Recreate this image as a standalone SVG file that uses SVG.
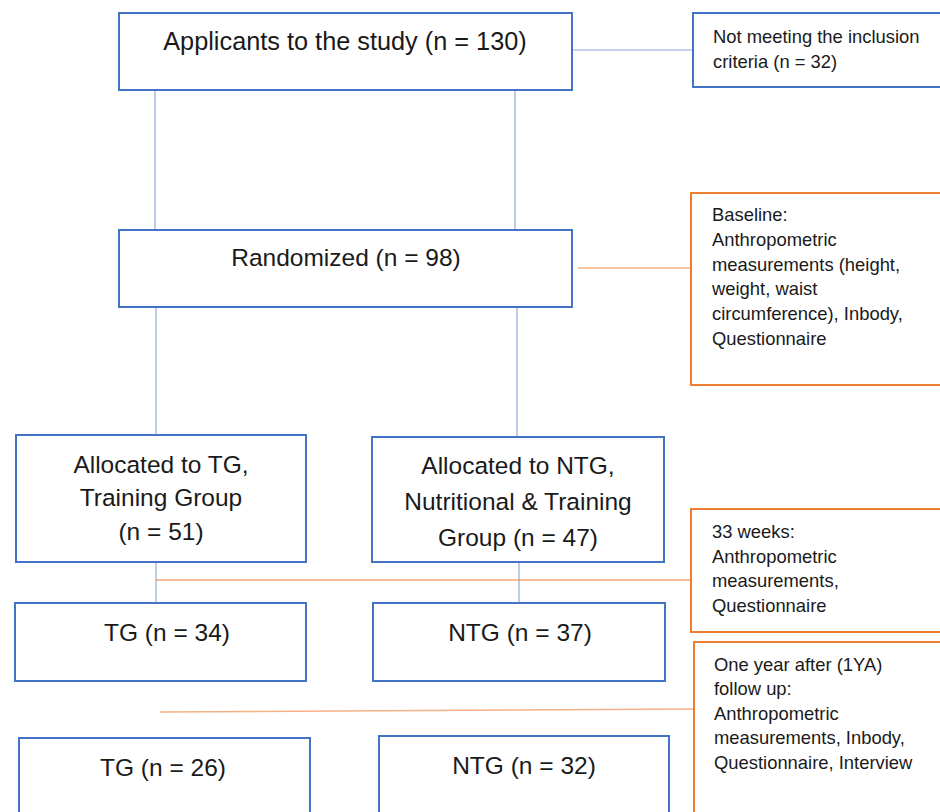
<svg xmlns="http://www.w3.org/2000/svg" width="940" height="812" viewBox="0 0 940 812">
<style>
.box{fill:#fff;stroke:#4472C4;stroke-width:2}
.obox{fill:#fff;stroke:#ED7D31;stroke-width:2}
.bl{stroke:#8FAADC;stroke-width:1.2;fill:none}
.ol{stroke:#F4B183;stroke-width:1.5;fill:none}
.ol2{stroke:#ED7D31;stroke-width:1;fill:none}
.big{font-family:"Liberation Sans",Arial,sans-serif;font-size:24.5px;fill:#1a1a1a;text-anchor:middle}
.big2{font-size:25.3px}
.sm{font-family:"Liberation Sans",Arial,sans-serif;font-size:18.4px;fill:#1a1a1a}
</style>
<rect width="940" height="812" fill="#fff"/>
<g id="connectors">
<line class="bl" x1="155" y1="90" x2="155" y2="230"/>
<line class="bl" x1="515" y1="90" x2="515" y2="230"/>
<line class="bl" x1="156" y1="307" x2="156" y2="435"/>
<line class="bl" x1="517" y1="307" x2="517" y2="437"/>
<line class="bl" x1="156" y1="562" x2="156" y2="603"/>
<line class="bl" x1="519" y1="562" x2="519" y2="603"/>
<line class="bl" x1="572" y1="50" x2="692" y2="50"/>
<line class="ol" x1="578" y1="268" x2="691" y2="268"/>
<line class="ol2" x1="156" y1="580" x2="691" y2="580"/>
<line class="ol" x1="160" y1="712" x2="697" y2="709"/>
</g>
<g id="applicants">
<rect class="box" x="119" y="13" width="453" height="77"/>
<text class="big big2" x="345" y="50">Applicants to the study (n = 130)</text>
</g>
<g id="excluded">
<rect class="box" x="693" y="13" width="260" height="74"/>
<text class="sm" x="713" y="43">Not meeting the inclusion</text>
<text class="sm" x="713" y="68">criteria (n = 32)</text>
</g>
<g id="randomized">
<rect class="box" x="119" y="230" width="453" height="77"/>
<text class="big" x="346" y="266">Randomized (n = 98)</text>
</g>
<g id="baseline">
<rect class="obox" x="691" y="193" width="260" height="192"/>
<text class="sm" x="712" y="221">Baseline:</text>
<text class="sm" x="712" y="246">Anthropometric</text>
<text class="sm" x="712" y="271">measurements (height,</text>
<text class="sm" x="712" y="295">weight, waist</text>
<text class="sm" x="712" y="320">circumference), Inbody,</text>
<text class="sm" x="712" y="345">Questionnaire</text>
</g>
<g id="alloc-tg">
<rect class="box" x="16" y="435" width="290" height="127"/>
<text class="big" x="161" y="473">Allocated to TG,</text>
<text class="big" x="161" y="506">Training Group</text>
<text class="big" x="161" y="540">(n = 51)</text>
</g>
<g id="alloc-ntg">
<rect class="box" x="372" y="437" width="292" height="125"/>
<text class="big" x="518" y="474">Allocated to NTG,</text>
<text class="big" x="518" y="510">Nutritional &amp; Training</text>
<text class="big" x="518" y="546">Group (n = 47)</text>
</g>
<g id="weeks33">
<rect class="obox" x="691" y="509" width="260" height="123"/>
<text class="sm" x="712" y="538">33 weeks:</text>
<text class="sm" x="712" y="563">Anthropometric</text>
<text class="sm" x="712" y="587">measurements,</text>
<text class="sm" x="712" y="612">Questionnaire</text>
</g>
<g id="tg34">
<rect class="box" x="15" y="603" width="291" height="78"/>
<text class="big" x="167" y="641">TG (n = 34)</text>
</g>
<g id="ntg37">
<rect class="box" x="373" y="603" width="292" height="78"/>
<text class="big" x="520" y="641">NTG (n = 37)</text>
</g>
<g id="oneyear">
<rect class="obox" x="694" y="642" width="260" height="190"/>
<text class="sm" x="714" y="671">One year after (1YA)</text>
<text class="sm" x="714" y="695">follow up:</text>
<text class="sm" x="714" y="720">Anthropometric</text>
<text class="sm" x="714" y="744">measurements, Inbody,</text>
<text class="sm" x="714" y="769">Questionnaire, Interview</text>
</g>
<g id="tg26">
<rect class="box" x="19" y="738" width="291" height="90"/>
<text class="big" x="163" y="776">TG (n = 26)</text>
</g>
<g id="ntg32">
<rect class="box" x="379" y="736" width="290" height="92"/>
<text class="big" x="524" y="774">NTG (n = 32)</text>
</g>
</svg>
